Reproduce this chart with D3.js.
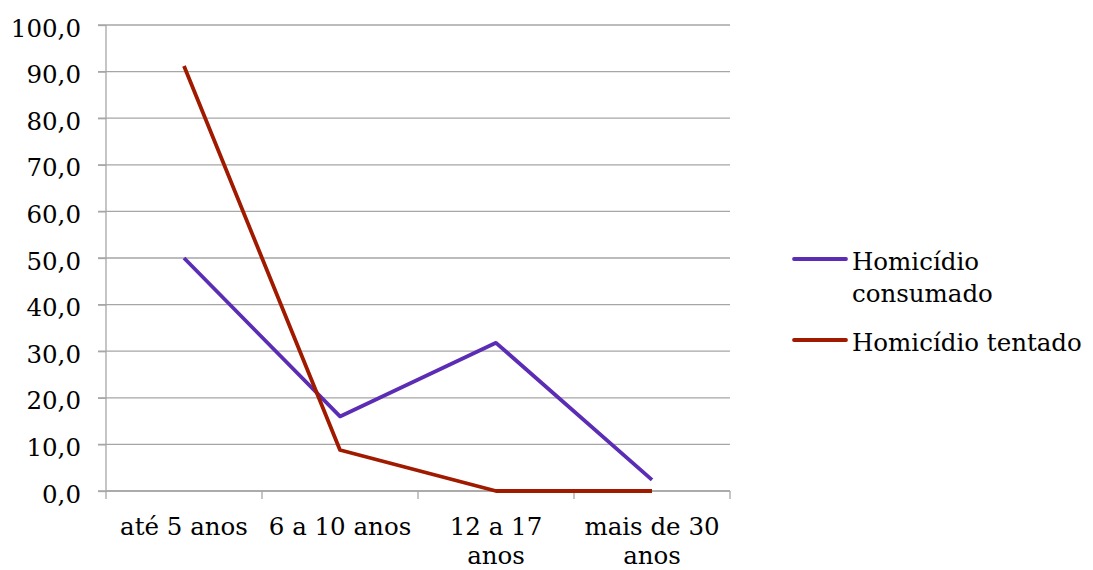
<!DOCTYPE html>
<html><head><meta charset="utf-8">
<script src="https://cdn.jsdelivr.net/npm/d3@7/dist/d3.min.js"></script>
<style>body{margin:0;background:#fff}svg{display:block}
text{font-family:"DejaVu Serif",serif;}
</style>
</head><body>
<svg id="c" width="1093" height="570"></svg>
<script>
const categories = [["até 5 anos"], ["6 a 10 anos"], ["12 a 17", "anos"], ["mais de 30", "anos"]];
const consumado = [50.0, 16.0, 31.8, 2.4];
const tentado = [91.2, 8.8, 0.0, 0.0];
const yTicks = [0, 10, 20, 30, 40, 50, 60, 70, 80, 90, 100];
const seriesNames = [["Homicídio", "consumado"], ["Homicídio tentado"]];
const colors = ["#5B2DB5", "#A01A00"];

const svg = d3.select("#c");
const fs = 24.5;
const L = 106, R = 730, T = 25, B = 491;
const x = d3.scaleBand().domain(d3.range(categories.length)).range([L, R]);
const y = d3.scaleLinear().domain([0, 100]).range([B, T]);
const fmt = v => v.toFixed(1).replace(".", ",");

svg.append("g").selectAll("line").data(yTicks).join("line")
  .attr("x1", L - 8).attr("x2", R).attr("y1", d => y(d)).attr("y2", d => y(d))
  .attr("stroke", "#a6a6a6").attr("stroke-width", 1.3);

const ya = svg.append("g").attr("transform", `translate(${L},0)`)
  .call(d3.axisLeft(y).tickValues(yTicks).tickFormat(fmt).tickSize(8).tickPadding(8));
ya.attr("font-family", null).attr("font-size", null);
ya.select(".domain").attr("stroke", "#a6a6a6").attr("stroke-width", 1.3).attr("d", `M0,${B}V${T}`);
ya.selectAll(".tick line").attr("stroke", "#a6a6a6").attr("stroke-width", 1.3);
ya.selectAll("text").attr("font-size", fs).attr("fill", "#000").attr("x", -25).attr("dy", "0.45em");

const xa = svg.append("g").attr("transform", `translate(0,${B})`);
const edges = d3.range(categories.length + 1).map(i => L + i * x.bandwidth());
xa.append("line").attr("x1", L).attr("x2", R).attr("y1", 0).attr("y2", 0).attr("stroke", "#a6a6a6").attr("stroke-width", 1.3);
xa.selectAll(".tk").data(edges).join("line").attr("class", "tk")
  .attr("x1", d => d).attr("x2", d => d).attr("y1", 0).attr("y2", 8)
  .attr("stroke", "#a6a6a6").attr("stroke-width", 1.3);
categories.forEach((lines, i) => {
  const cx = x(i) + x.bandwidth() / 2;
  const t = xa.append("text").attr("font-size", fs).attr("fill", "#000")
    .attr("text-anchor", "middle");
  lines.forEach((s, j) => t.append("tspan").attr("x", cx).attr("y", 44 + j * 29).text(s));
});

const line = d3.line().x((d, i) => x(i) + x.bandwidth() / 2).y(d => y(d));
[consumado, tentado].forEach((s, k) => {
  svg.append("path").datum(s).attr("d", line).attr("fill", "none")
    .attr("stroke", colors[k]).attr("stroke-width", 3.8).attr("stroke-linejoin", "round");
});

const legY = [259, 340];
seriesNames.forEach((lines, k) => {
  svg.append("line").attr("x1", 794).attr("x2", 846).attr("y1", legY[k]).attr("y2", legY[k])
    .attr("stroke", colors[k]).attr("stroke-width", 3.8).attr("stroke-linecap", "round");
  const t = svg.append("text").attr("font-size", fs).attr("fill", "#000");
  lines.forEach((s, j) => t.append("tspan").attr("x", 852).attr("y", legY[k] + 11 + j * 32).text(s));
});
</script>
</body></html>
